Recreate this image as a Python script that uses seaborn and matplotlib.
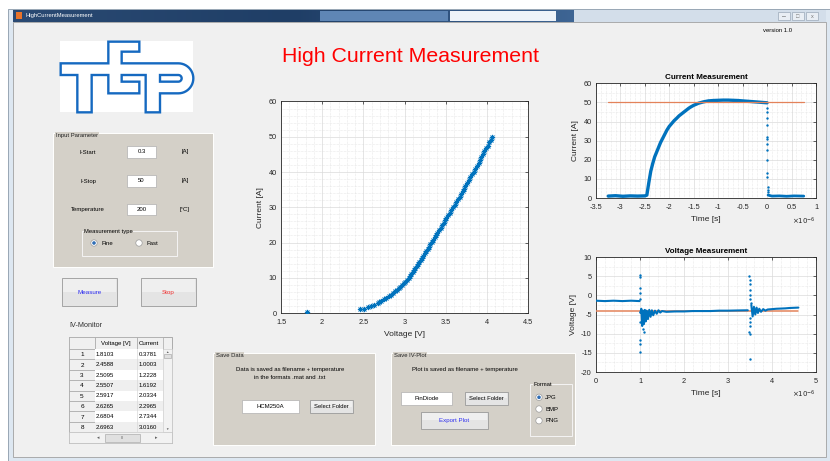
import numpy as np
import pandas as pd
import matplotlib
matplotlib.use("Agg")
import matplotlib.pyplot as plt
import seaborn as sns
from matplotlib.patches import Rectangle, Circle, PathPatch
from matplotlib.path import Path
from matplotlib.ticker import MultipleLocator, FuncFormatter
from matplotlib.colors import LinearSegmentedColormap

# ---------------- data ----------------
iv_voltage = [1.8103, 2.4588, 2.5095, 2.5507, 2.5917, 2.6265, 2.6804, 2.6963, 2.72, 2.75,
              2.78, 2.81, 2.83, 2.86, 2.88, 2.91, 2.93, 2.95, 2.97, 2.99,
              3.01, 3.03, 3.05, 3.07, 3.08, 3.10, 3.12, 3.13, 3.15, 3.16,
              3.18, 3.20, 3.21, 3.23, 3.25, 3.26, 3.28, 3.30, 3.31, 3.33,
              3.35, 3.37, 3.38, 3.40, 3.42, 3.44, 3.46, 3.48, 3.49, 3.51,
              3.53, 3.55, 3.57, 3.59, 3.61, 3.63, 3.65, 3.67, 3.69, 3.71,
              3.72, 3.74, 3.76, 3.78, 3.80, 3.82, 3.84, 3.86, 3.88, 3.90,
              3.92, 3.93, 3.95, 3.97, 3.99, 4.01, 4.03, 4.05, 4.06]
iv_current = [0.3781, 1.0003, 1.2228, 1.6192, 2.0334, 2.2965, 2.7344, 3.0160, 3.4, 3.9,
              4.3, 4.8, 5.2, 5.7, 6.1, 6.6, 7.0, 7.5, 8.0, 8.4,
              8.9, 9.5, 10.0, 10.6, 11.1, 11.7, 12.2, 12.8, 13.4, 13.9,
              14.5, 15.1, 15.7, 16.3, 16.9, 17.5, 18.2, 18.8, 19.5, 20.1,
              20.8, 21.5, 22.1, 22.8, 23.5, 24.2, 24.9, 25.6, 26.3, 27.0,
              27.8, 28.5, 29.2, 30.0, 30.7, 31.5, 32.2, 33.0, 33.8, 34.5,
              35.3, 36.1, 36.9, 37.7, 38.5, 39.3, 40.1, 40.9, 41.7, 42.6,
              43.4, 44.2, 45.0, 45.9, 46.7, 47.5, 48.4, 49.2, 50.0]

# current measurement (time in microseconds)
cur_on_t = [-3.25, -3.1, -2.95, -2.8, -2.65, -2.5, -2.46, -2.42, -2.38, -2.34, -2.30, -2.26,
            -2.22, -2.18, -2.14, -2.10, -2.05, -2.0, -1.95, -1.9, -1.85, -1.8, -1.75, -1.7,
            -1.65, -1.6, -1.55, -1.5, -1.4, -1.3, -1.2, -1.1, -1.0, -0.9, -0.8, -0.7,
            -0.6, -0.5, -0.4, -0.3, -0.2, -0.1, 0.0]
cur_on_i = [1.0, 1.2, 0.9, 1.1, 1.0, 1.1, 1.5, 8.0, 14.0, 18.0, 21.5, 24.0,
            26.5, 29.0, 31.0, 33.0, 35.5, 37.5, 39.0, 40.5, 41.7, 43.0, 44.0, 45.0,
            46.0, 47.0, 47.8, 48.5, 49.6, 50.3, 50.8, 51.0, 51.1, 51.2, 51.2, 51.1,
            51.0, 50.8, 50.6, 50.4, 50.2, 50.0, 49.8]
cur_off_t = [0.02, 0.1, 0.25, 0.4, 0.55, 0.75]
cur_off_i = [1.5, 1.0, 1.1, 0.9, 1.1, 1.0]
cur_drop_t = [0.004, 0.004, 0.005, 0.004, 0.005, 0.004, 0.005, 0.004, 0.005, 0.004, 0.006, 0.008, 0.01, 0.012]
cur_drop_i = [47, 45, 42, 38, 32, 31, 28, 25, 20, 13, 11, 6, 4, 3]
cur_set_t = [-3.25, 0.75]
cur_set_i = [50, 50]

# voltage measurement (time in microseconds)
volt_a_t = [0.0, 0.2, 0.4, 0.6, 0.8, 0.99]
volt_a_v = [-1.4, -1.5, -1.4, -1.5, -1.4, -1.5]
volt_b_t = [1.01, 1.03, 1.05, 1.07, 1.09, 1.11, 1.13, 1.15, 1.18, 1.21, 1.24, 1.27, 1.30, 1.34,
            1.38, 1.42, 1.46, 1.5, 1.6, 1.8, 2.0, 2.2, 2.4, 2.6, 2.8, 3.0, 3.2, 3.45]
volt_b_v = [-4.5, -3.5, -8.0, -4.0, -7.5, -3.8, -6.8, -4.0, -6.2, -3.8, -5.6, -3.9, -5.2, -4.0,
            -4.8, -3.9, -4.5, -4.1, -4.3, -4.2, -4.2, -4.1, -4.1, -4.1, -4.0, -4.0, -3.95, -3.9]
volt_c_t = [3.53, 3.56, 3.59, 3.62, 3.65, 3.68, 3.71, 3.75, 3.8, 3.85, 3.9, 4.0, 4.1, 4.2,
            4.3, 4.4, 4.5, 4.6]
volt_c_v = [-2.5, -5.5, -3.0, -5.0, -3.2, -4.6, -3.5, -4.3, -3.6, -4.0, -3.7, -3.6, -3.5, -3.45,
            -3.4, -3.3, -3.25, -3.2]
volt_spike_t = [1.0, 1.0, 1.005, 1.01, 0.998, 1.0, 1.005, 0.995, 1.0, 1.01, 1.08, 1.06,
                3.48, 3.49, 3.5, 3.5, 3.51, 3.5, 3.52, 3.49, 3.5, 3.48, 3.5, 3.49, 3.51]
volt_spike_v = [5.4, 4.7, 1.9, 0.5, -1.0, -6.9, -11.7, -12.6, -14.8, -4.3, -9.5, -8.8,
                5.0, 4.0, 3.0, 1.5, 0.2, -1.0, -2.0, -6.0, -7.0, -9.5, -10.0, -16.5, -8.0]
volt_set_t = [0.0, 4.6]
volt_set_v = [-4.0, -4.0]

table_rows = 8

BLUE = "#0072BD"
ORANGE = "#E3825A"
INK = "#262626"
PANEL = "#D4D0C8"
BG = "#F0F0F0"

sns.set_theme(style="white")
plt.rcParams["font.family"] = ["Liberation Sans", "DejaVu Sans"]
plt.rcParams["axes.unicode_minus"] = False

fig = plt.figure(figsize=(8.3, 4.61), dpi=100)
fig.patch.set_facecolor("white")

bg = fig.add_axes([0, 0, 1, 1])
bg.set_axis_off()


def rect(x0, y0, x1, y1, fc, ec="none", lw=0.6, z=1):
    r = Rectangle((x0, y0), x1 - x0, y1 - y0, facecolor=fc, edgecolor=ec, linewidth=lw, zorder=z)
    bg.add_patch(r)
    return r


def txt(x, y, s, size=4.5, color="black", ha="left", va="center", weight="normal", z=5, **kw):
    return bg.text(x, y, s, fontsize=size, color=color, ha=ha, va=va, fontweight=weight, zorder=z, **kw)


def radio(x, y, on):
    bg.add_patch(Circle((x, y), 3.2, facecolor="white", edgecolor="#9A9A9A", linewidth=0.5, zorder=4))
    if on:
        bg.add_patch(Circle((x, y), 1.8, facecolor="#2F6DB5", edgecolor="none", zorder=5))


def button(x0, y0, x1, y1, label, color="black", size=4.5):
    rect(x0, y0, x1, y1, "#E4E4E4", "#9A9A9A", 0.6, z=3)
    rect(x0 + 1, y0 + 1, x1 - 1, (y0 + y1) / 2, "#EFEFEF", "none", z=3)
    txt((x0 + x1) / 2, (y0 + y1) / 2, label, size=size, color=color, ha="center")


def panel(x0, y0, x1, y1, title):
    rect(x0, y0, x1, y1, PANEL, "#FFFFFF", 0.7, z=2)
    txt(x0 + 3, y0 + 2, title, size=4.2, color="#202020", va="center", z=4,
        bbox=dict(facecolor=PANEL, edgecolor="none", pad=0.4))


def editbox(x0, y0, x1, y1, s):
    rect(x0, y0, x1, y1, "white", "#B0B0B0", 0.5, z=3)
    txt((x0 + x1) / 2, (y0 + y1) / 2, s, size=4.3, ha="center")


# window chrome
rect(0, 0, 830, 461, "white", z=0)
rect(8, 9, 830, 461, "#DDE7F1", "#8A9AAA", 0.6, z=0.5)
rect(13, 22, 826, 457, BG, "#A0A0A0", 0.6, z=0.6)
grad = np.linspace(0, 1, 256).reshape(1, -1)
cmap_tb = LinearSegmentedColormap.from_list("tb", ["#2A4A73", "#1F3E66", "#3E6594"])
bg.imshow(grad, extent=(13, 574, 22, 10), aspect="auto", cmap=cmap_tb, zorder=0.7)
rect(320, 11, 448, 21, "#5F86B5", z=0.8)
rect(450, 11, 556, 21, "#EEF3F9", z=0.8)
rect(574, 10, 826, 22, "#D3DEEA", z=0.8)
rect(16, 12.5, 22, 19.5, "#E8732A", z=1)
txt(25, 16, "HighCurrentMeasurement", size=4.2, color="white")
for bx in (778, 792, 806):
    rect(bx, 12, bx + 12, 20, "#E9EEF4", "#9AA8B8", 0.5, z=1)
txt(784, 16.5, "–", size=5, ha="center", color="#555555")
txt(798, 16, "□", size=4, ha="center", color="#777777")
txt(812, 16, "x", size=4, ha="center", color="#777777")
txt(763, 30, "version 1.0", size=4.2)

# title
txt(410, 56, "High Current Measurement", size=15.3, color="#FF0000", ha="center")

# logo
rect(60, 41, 193, 112, "white", z=1)


def zc(x, y):
    return (x / 3 + 50, y / 3 + 35)


outer = [(32, 85), (175, 85), (175, 20), (268, 20), (268, 50), (215, 50), (215, 85), (385, 85)]
for a in np.linspace(-np.pi / 2, np.pi / 2, 25)[1:]:
    outer.append((385 + 45 * np.cos(a), 130 + 45 * np.sin(a)))
outer += [(330, 175), (330, 232), (287, 232), (287, 120), (215, 120), (215, 140), (268, 140),
          (268, 175), (175, 175), (175, 120), (125, 120), (125, 232), (82, 232), (82, 120), (32, 120)]
inner = [(330, 120), (330, 140), (385, 140)]
for a in np.linspace(np.pi / 2, -np.pi / 2, 13)[1:]:
    inner.append((385 + 10 * np.cos(a), 130 + 10 * np.sin(a)))
verts, codes = [], []
for poly in (outer, inner):
    pts = [zc(*p) for p in poly]
    verts += pts + [pts[0]]
    codes += [Path.MOVETO] + [Path.LINETO] * (len(pts) - 1) + [Path.CLOSEPOLY]
bg.add_patch(PathPatch(Path(verts, codes), facecolor="white", edgecolor="#1569C0",
                       linewidth=1.7, joinstyle="miter", zorder=2))

# input parameter panel
panel(53, 133, 213, 267, "Input Parameter")
for y, lab, val, unit in ((152, "I-Start", "0.3", "[A]"), (181, "I-Stop", "50", "[A]"),
                          (209.5, "Temperature", "200", "[°C]")):
    txt(88, y, lab, size=4.3, ha="center")
    editbox(127, y - 6, 156, y + 5.5, val)
    txt(185, y - 0.5, unit, size=4.3, ha="center")
rect(82, 231, 177, 256, PANEL, "#F4F4F4", 0.7, z=3)
txt(84, 231, "Measurement type", size=4.2, z=4, bbox=dict(facecolor=PANEL, edgecolor="none", pad=0.3))
radio(94, 243, True)
txt(101, 243, "Fine", size=4.3)
radio(139, 243, False)
txt(146, 243, "Fast", size=4.3)

button(62, 278, 117, 306, "Measure", color="#2E2EF0")
button(141, 278, 196, 306, "Stop", color="#F03030")

# IV-Monitor table
txt(69, 325.5, "IV-Monitor", size=5.2, color="#303030")
rect(69, 337, 172, 443, BG, "#A0A0A0", 0.6, z=2)
rect(69, 337, 95, 349, BG, "#A8A8A8", 0.5, z=3)
rect(95, 337, 137, 349, BG, "#A8A8A8", 0.5, z=3)
hdr = rect(137, 337, 163, 349, BG, "#A8A8A8", 0.5, z=3)
txt(116, 343, "Voltage [V]", size=4.4, ha="center", z=4)
t_cur = txt(139, 343, "Current", size=4.4, z=4)
t_cur.set_clip_path(hdr)
rh = 10.4
for k in range(table_rows):
    y0 = 349 + k * rh
    fc = "white" if k % 2 == 0 else "#EFEFEF"
    rect(69, y0, 95, y0 + rh, BG, "#A8A8A8", 0.5, z=3)
    rect(95, y0, 163, y0 + rh, fc, "none", z=3)
    txt(82, y0 + rh / 2 + 0.5, str(k + 1), size=4.6, ha="center", z=4)
    txt(96, y0 + rh / 2, f"{iv_voltage[k]:.4f}", size=4.3, z=4)
    txt(139, y0 + rh / 2, f"{iv_current[k]:.4f}", size=4.3, z=4)
bg.plot([137, 137], [349, 432], color="#D8D8D8", lw=0.5, zorder=4)
rect(163, 349, 172, 432, "#F2F2F2", "#C8C8C8", 0.4, z=3)
rect(164, 353.5, 171, 358, "#E0E0E0", "#A0A0A0", 0.4, z=4)
txt(167.5, 352, "▲", size=2.5, ha="center", color="#606060")
txt(167.5, 429, "▼", size=2.5, ha="center", color="#606060")
rect(69, 432, 172, 443, "#F2F2F2", "#C0C0C0", 0.4, z=3)
rect(105, 433.5, 140, 441.5, "#E0E0E0", "#A0A0A0", 0.4, z=4)
txt(122.5, 437.5, "III", size=3, ha="center", color="#606060", z=5)
txt(98, 437.5, "◂", size=3.5, ha="center", color="#606060")
txt(156, 437.5, "▸", size=3.5, ha="center", color="#606060")

# save data panel
panel(213, 353, 375, 445, "Save Data")
txt(290, 369.5, "Data is saved as filename + temperature", size=4.3, ha="center")
txt(290, 377.8, "in the formats .mat and .txt", size=4.3, ha="center")
editbox(242, 400, 299, 413, "HCM250A")
button(310, 400, 353, 413, "Select Folder", size=4.2)

# save IV-plot panel
panel(391, 353, 575, 445, "Save IV-Plot")
txt(465, 369, "Plot is saved as filename + temperature", size=4.3, ha="center")
editbox(401, 391.5, 452, 405, "PinDiode")
button(465, 391.5, 508, 405, "Select Folder", size=4.2)
button(421, 412, 488, 428.5, "Export Plot", color="#2E2EF0", size=4.4)
rect(530, 383.5, 572, 436, PANEL, "#F4F4F4", 0.7, z=3)
txt(533, 384, "Format", size=4.2, z=4, bbox=dict(facecolor=PANEL, edgecolor="none", pad=0.3))
for y, lab, on in ((397.3, "JPG", True), (409, "BMP", False), (420.7, "PNG", False)):
    radio(539, y, on)
    txt(545, y, lab, size=4.3)

bg.set_xlim(0, 830)
bg.set_ylim(461, 0)


# ---------------- data axes ----------------
def style_axes(ax, xmaj, xmin, ymaj, ymin):
    ax.set_facecolor("white")
    for s in ax.spines.values():
        s.set_color(INK)
        s.set_linewidth(0.6)
        s.set_visible(True)
    ax.xaxis.set_major_locator(MultipleLocator(xmaj))
    ax.xaxis.set_minor_locator(MultipleLocator(xmin))
    ax.yaxis.set_major_locator(MultipleLocator(ymaj))
    ax.yaxis.set_minor_locator(MultipleLocator(ymin))
    ax.grid(True, which="major", color="#DADADA", lw=0.5)
    ax.grid(True, which="minor", color="#D6D6D6", lw=0.4, ls=(0, (1, 1.5)))
    ax.set_axisbelow(True)
    ax.tick_params(which="major", direction="in", length=2.5, width=0.5, top=True, right=True,
                   labelsize=5.3, colors=INK)
    ax.tick_params(axis="x", which="major", pad=4)
    ax.tick_params(axis="y", which="major", pad=3)
    ax.tick_params(which="minor", length=0)
    ax.xaxis.set_major_formatter(FuncFormatter(lambda v, p: f"{v:g}"))
    ax.yaxis.set_major_formatter(FuncFormatter(lambda v, p: f"{v:g}"))


# IV plot
ax1 = fig.add_axes([281 / 830, (461 - 313) / 461, 247 / 830, 211.5 / 461])
df_iv = pd.DataFrame({"Voltage": iv_voltage, "Current": iv_current})
sns.scatterplot(data=df_iv, x="Voltage", y="Current", ax=ax1, marker=(8, 2, 0), s=11,
                color=BLUE, linewidth=0.6, legend=False, zorder=3)
ax1.set_xlim(1.5, 4.5)
ax1.set_ylim(0, 60)
style_axes(ax1, 0.5, 0.1, 10, 2)
ax1.set_xlabel("Voltage [V]", fontsize=6, color=INK, labelpad=4)
ax1.set_ylabel("Current [A]", fontsize=6, color=INK, labelpad=3)

# Current measurement
ax2 = fig.add_axes([596 / 830, (461 - 198) / 461, 220 / 830, 114.7 / 461])
df_on = pd.DataFrame({"t": np.array(cur_on_t) * 1e-6, "i": cur_on_i})
df_off = pd.DataFrame({"t": np.array(cur_off_t) * 1e-6, "i": cur_off_i})
df_drop = pd.DataFrame({"t": np.array(cur_drop_t) * 1e-6, "i": cur_drop_i})
df_cset = pd.DataFrame({"t": np.array(cur_set_t) * 1e-6, "i": cur_set_i})
sns.lineplot(data=df_on, x="t", y="i", ax=ax2, color=BLUE, lw=2.4, sort=False, estimator=None, zorder=3)
sns.lineplot(data=df_off, x="t", y="i", ax=ax2, color=BLUE, lw=2.0, sort=False, estimator=None, zorder=3)
sns.scatterplot(data=df_drop, x="t", y="i", ax=ax2, color=BLUE, s=3, linewidth=0, legend=False, zorder=3)
sns.lineplot(data=df_cset, x="t", y="i", ax=ax2, color=ORANGE, lw=0.9, sort=False, estimator=None, zorder=4)
ax2.set_xlim(-3.5e-6, 1e-6)
ax2.set_ylim(0, 60)
style_axes(ax2, 0.5e-6, 0.1e-6, 10, 5)
ax2.xaxis.set_major_formatter(FuncFormatter(lambda v, p: f"{v * 1e6:g}"))
ax2.set_title("Current Measurement", fontsize=5.8, fontweight="bold", color="black", pad=3)
ax2.set_xlabel("Time [s]", fontsize=6, color=INK, labelpad=4)
ax2.set_ylabel("Current [A]", fontsize=6, color=INK, labelpad=3)
ax2.text(1.0, -0.2, r"$\times10^{-6}$", transform=ax2.transAxes, fontsize=5, color=INK, ha="right", va="center")

# Voltage measurement
ax3 = fig.add_axes([596 / 830, (461 - 372) / 461, 220 / 830, 115 / 461])
df_a = pd.DataFrame({"t": np.array(volt_a_t) * 1e-6, "v": volt_a_v})
df_b = pd.DataFrame({"t": np.array(volt_b_t) * 1e-6, "v": volt_b_v})
df_c = pd.DataFrame({"t": np.array(volt_c_t) * 1e-6, "v": volt_c_v})
df_sp = pd.DataFrame({"t": np.array(volt_spike_t) * 1e-6, "v": volt_spike_v})
df_vset = pd.DataFrame({"t": np.array(volt_set_t) * 1e-6, "v": volt_set_v})
sns.lineplot(data=df_vset, x="t", y="v", ax=ax3, color=ORANGE, lw=1.1, sort=False, estimator=None, zorder=3)
for d in (df_a, df_b, df_c):
    sns.lineplot(data=d, x="t", y="v", ax=ax3, color=BLUE, lw=1.5, sort=False, estimator=None, zorder=4)
sns.scatterplot(data=df_sp, x="t", y="v", ax=ax3, color=BLUE, s=3, linewidth=0, legend=False, zorder=4)
ax3.set_xlim(0, 5e-6)
ax3.set_ylim(-20, 10)
style_axes(ax3, 1e-6, 0.2e-6, 5, 2.5)
ax3.xaxis.set_major_formatter(FuncFormatter(lambda v, p: f"{v * 1e6:g}"))
ax3.set_title("Voltage Measurement", fontsize=5.8, fontweight="bold", color="black", pad=3)
ax3.set_xlabel("Time [s]", fontsize=6, color=INK, labelpad=4)
ax3.set_ylabel("Voltage [V]", fontsize=6, color=INK, labelpad=3)
ax3.text(1.0, -0.19, r"$\times10^{-6}$", transform=ax3.transAxes, fontsize=5, color=INK, ha="right", va="center")

fig.savefig("out.png", dpi=100)
